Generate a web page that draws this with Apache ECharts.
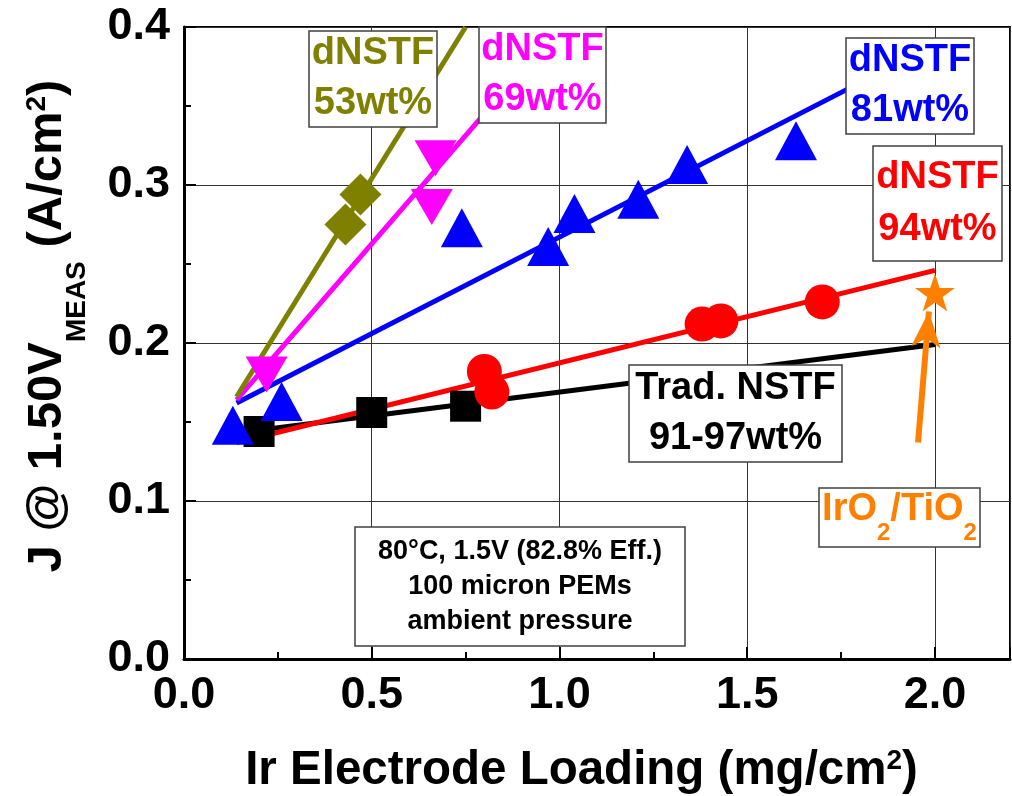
<!DOCTYPE html>
<html>
<head>
<meta charset="utf-8">
<script src="https://cdn.jsdelivr.net/npm/echarts@6/dist/echarts.min.js"></script>
<style>html,body{margin:0;padding:0;background:#fff}#c{width:1012px;height:796px}</style>
</head>
<body>
<div id="c"></div>
<script>
// ---- data (x: Ir loading mg/cm2, y: J @ 1.50V A/cm2) ----
const tradNSTF   = [[0.20,0.144],[0.50,0.156],[0.75,0.160]];
const tradFit    = [[0.14,0.143],[2.0,0.199]];
const dNSTF94    = [[0.80,0.182],[0.82,0.169],[1.38,0.212],[1.43,0.214],[1.70,0.226]];
const dNSTF94Fit = [[0.14,0.137],[2.0,0.246]];
const dNSTF81    = [[0.13,0.148],[0.26,0.163],[0.74,0.273],[0.97,0.261],[1.04,0.282],[1.21,0.291],[1.34,0.313],[1.63,0.328]];
const dNSTF81Fit = [[0.14,0.162],[1.77,0.361]];
const dNSTF69    = [[0.22,0.180],[0.67,0.317],[0.66,0.286]];
const dNSTF69Fit = [[0.14,0.164],[0.80,0.345]];
const dNSTF53    = [[0.43,0.275],[0.47,0.294]];
const dNSTF53Fit = [[0.14,0.166],[0.75,0.400]];
const irO2TiO2   = [[2.0,0.232]];
const arrowPts   = [[1.955,0.137],[1.984,0.220]];

const xTickLabels = ['0.0','0.5','1.0','1.5','2.0'];
const yTickLabels = ['0.0','0.1','0.2','0.3','0.4'];

const boxLabels = [
  {lines:['dNSTF','53wt%'], color:'#808000'},
  {lines:['dNSTF','69wt%'], color:'#FF00FF'},
  {lines:['dNSTF','81wt%'], color:'#0000FF'},
  {lines:['dNSTF','94wt%'], color:'#FF0000'},
  {lines:['Trad. NSTF','91-97wt%'], color:'#000000'}
];
const conditionLines = ['80°C, 1.5V (82.8% Eff.)','100 micron PEMs','ambient pressure'];
const catalystParts = [['IrO','main'],['2','sub'],['/TiO','main'],['2','sub']];

// ---- layout (pixels) for annotation boxes ----
const boxRects = [
  {r:[309,31,128,96], lh:50},
  {r:[479,27,127,96], lh:50},
  {r:[846,38,128,96], lh:50},
  {r:[873,146,129,115], lh:52},
  {r:[629,365,213,97], lh:50}
];

const FONT = "'Liberation Sans', Arial, sans-serif";
const starPath = 'path://M50,0 L61.2,34.5 L97.6,34.5 L68.2,55.9 L79.4,90.5 L50,69.1 L20.6,90.5 L31.8,55.9 L2.4,34.5 L38.8,34.5 Z';

const chart = echarts.init(document.getElementById('c'), null, {renderer:'canvas'});

function boxRect(x,y,w,h){
  return {type:'rect', z:100, shape:{x,y,width:w,height:h},
    style:{fill:'#fff', stroke:'#404040', lineWidth:1.5}};
}
function txt(text,x,y,font,fill,align,vAlign,lh){
  const s = {text, x, y, font, fill, textAlign:align, align:align,
    textVerticalAlign:vAlign, verticalAlign:vAlign};
  if (lh) s.lineHeight = lh;
  return {type:'text', z:101, style:s};
}

const graphics = [];
boxLabels.forEach((b,i)=>{
  const [x,y,w,h] = boxRects[i].r;
  graphics.push(boxRect(x,y,w,h));
  graphics.push(txt(b.lines.join('\n'), x+w/2, y+h/2, "bold 38px "+FONT, b.color, 'center','middle', boxRects[i].lh));
});
// conditions box
graphics.push(boxRect(355,527,330,119));
graphics.push(txt(conditionLines.join('\n'), 520, 587, "bold 27px "+FONT, '#000', 'center','middle', 35));
// IrO2/TiO2 box with true subscripts
graphics.push(boxRect(819,488,161,59));
(function(){
  const mainFont = "bold 38px "+FONT, subFont = "bold 24px "+FONT;
  const meas = document.createElement('canvas').getContext('2d');
  const widths = catalystParts.map(p=>{ meas.font = p[1]==='main'?mainFont:subFont; return meas.measureText(p[0]).width; });
  const total = widths.reduce((a,b)=>a+b,0);
  let x = 899.5 - total/2;
  catalystParts.forEach((p,i)=>{
    const isMain = p[1]==='main';
    graphics.push(txt(p[0], x, isMain?509.8:533.5, isMain?mainFont:subFont, '#FF8000', 'left','middle'));
    x += widths[i];
  });
})();

function fmtTick(list, step){
  return function(v){
    const k = v/step;
    if (Math.abs(k-Math.round(k))>1e-6) return '';
    return list[Math.round(k)] || '';
  };
}

const option = {
  animation:false,
  backgroundColor:'#fff',
  textStyle:{fontFamily:FONT},
  grid:{left:184, right:2, top:27, bottom:137, containLabel:false, outerBoundsMode:'none',
        show:true, borderColor:'#000', borderWidth:2, backgroundColor:'transparent'},
  xAxis:[{
    type:'value', min:0, max:2.2, interval:0.5,
    axisLine:{show:true, lineStyle:{color:'#000', width:3}},
    axisTick:{show:true, inside:true, length:12, lineStyle:{color:'#000', width:2}},
    splitLine:{show:true, lineStyle:{color:'#333', width:1}},
    axisLabel:{fontSize:45, fontWeight:'bold', color:'#000', margin:14, formatter:fmtTick(xTickLabels,0.5)},
    name:'{m|Ir Electrode Loading (mg/cm}{p|2}{m|)}',
    nameLocation:'middle', nameGap:88,
    nameTextStyle:{color:'#000', padding:[0,31,0,0], rich:{
      m:{fontSize:47.5, fontWeight:'bold', color:'#000', lineHeight:47, verticalAlign:'top'},
      p:{fontSize:28, fontWeight:'bold', color:'#000', lineHeight:28, verticalAlign:'top'}
    }}
  },{
    type:'value', min:0, max:2.2, interval:0.25, position:'bottom',
    axisLine:{show:false}, axisLabel:{show:false}, splitLine:{show:false},
    axisTick:{show:true, inside:true, length:7, lineStyle:{color:'#000', width:2}}
  }],
  yAxis:[{
    type:'value', min:0, max:0.4, interval:0.1,
    axisLine:{show:true, lineStyle:{color:'#000', width:3}},
    axisTick:{show:true, inside:true, length:12, lineStyle:{color:'#000', width:2}},
    minorTick:{show:true, splitNumber:2, length:7, lineStyle:{color:'#000', width:2}},
    splitLine:{show:true, lineStyle:{color:'#333', width:1}},
    axisLabel:{fontSize:45, fontWeight:'bold', color:'#000', margin:14, formatter:fmtTick(yTickLabels,0.1)},
    name:'{m|J @ 1.50V}{s|MEAS}{m| (A/cm}{p|2}{m|)}',
    nameLocation:'middle', nameGap:93, nameRotate:90,
    nameTextStyle:{color:'#000', padding:[0,0,0,34], rich:{
      m:{fontSize:49, fontWeight:'bold', color:'#000', lineHeight:49, verticalAlign:'top'},
      s:{fontSize:28, fontWeight:'bold', color:'#000', lineHeight:68, verticalAlign:'bottom'},
      p:{fontSize:28, fontWeight:'bold', color:'#000', lineHeight:28, verticalAlign:'top'}
    }}
  }],
  series:[
    {type:'line', data:tradFit, showSymbol:false, symbol:'none', z:2, lineStyle:{color:'#000', width:5}},
    {type:'line', data:dNSTF81Fit, showSymbol:false, symbol:'none', z:2, lineStyle:{color:'#0000FF', width:5}},
    {type:'line', data:dNSTF69Fit, showSymbol:false, symbol:'none', z:2, lineStyle:{color:'#FF00FF', width:5}},
    {type:'line', data:dNSTF53Fit, showSymbol:false, symbol:'none', z:2, lineStyle:{color:'#808000', width:5}},
    {type:'line', data:dNSTF94Fit, showSymbol:false, symbol:'none', z:2, lineStyle:{color:'#FF0000', width:5}},
    {type:'scatter', data:tradNSTF, symbol:'rect', symbolSize:31, z:3, itemStyle:{color:'#000', opacity:1}},
    {type:'scatter', data:dNSTF81, symbol:'triangle', symbolSize:[42,39], z:3, itemStyle:{color:'#0000FF', opacity:1}},
    {type:'scatter', data:dNSTF69, symbol:'triangle', symbolRotate:180, symbolSize:[42,36], z:3, itemStyle:{color:'#FF00FF', opacity:1}},
    {type:'scatter', data:dNSTF53, symbol:'diamond', symbolSize:42, z:3, itemStyle:{color:'#808000', opacity:1}},
    {type:'scatter', data:dNSTF94, symbol:'circle', symbolSize:35, z:3, itemStyle:{color:'#FF0000', opacity:1}},
    {type:'scatter', data:irO2TiO2, symbol:starPath, symbolKeepAspect:true, symbolSize:40, z:3, itemStyle:{color:'#FF8000', opacity:1}},
    {type:'line', data:[], z:4, markLine:{silent:true, animation:false, symbol:['none','arrow'], symbolSize:[22,36],
      label:{show:false}, lineStyle:{color:'#FF8000', width:6, type:'solid', opacity:1},
      data:[[{coord:arrowPts[0]},{coord:arrowPts[1]}]]}}
  ],
  graphic:graphics
};
chart.setOption(option);
</script>
</body>
</html>
